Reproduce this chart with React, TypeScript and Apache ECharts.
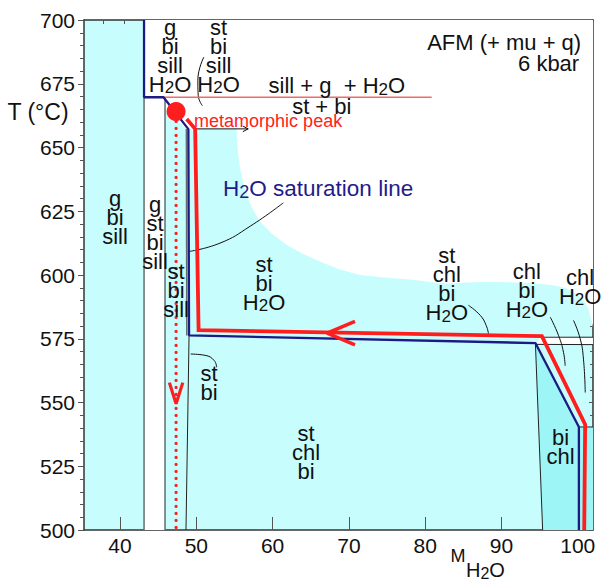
import React, { useEffect, useRef } from "react";
import * as echarts from "echarts";

const FONT = '"Liberation Sans", Arial, Helvetica, sans-serif';

const X_MIN = 35.28;
const X_MAX = 102;
const Y_MIN = 500;
const Y_MAX = 700;
const xTickValues = [40, 50, 60, 70, 80, 90, 100];
const topTickValues = [37.8, 40.5, 43.2, 45.9, 48.6, 51.2, 53.9, 56.6, 59.3, 62.0, 64.6, 67.3, 70.0, 72.7, 75.4, 78.0, 80.7, 83.4, 86.1, 88.8, 91.4, 94.1, 96.8, 99.5];

// filled fields
const whiteRegion = [
  [43.15, 700], [102, 700], [102, 579.6], [101.41, 586.8], [100.9, 589.6], [100.32, 591.4], [99.5, 593.3],
  [98.58, 594.7], [97.3, 595.7], [95.95, 596.3], [93.8, 596.9], [91.57, 597.1], [89.4, 597.3], [87.21, 597.3],
  [85.0, 597.0], [82.84, 596.7], [80.6, 597.3], [78.42, 598.1], [75.0, 598.9], [71.47, 600.0], [68.8, 602.2],
  [66.27, 605.2], [63.9, 608.4], [61.86, 611.8], [59.9, 616.2], [58.36, 621.0], [57.3, 626.4], [56.6, 631.6],
  [56.1, 637.0], [55.74, 642.1], [55.45, 648.5], [55.3, 655.3], [55.3, 657.35], [50.1, 657.35], [48.7, 657.35],
  [45.9, 665], [45.9, 500], [43.15, 500],
];
const whiteBand = [[95.3, 576.0], [102, 575.6], [102, 572.7], [94.45, 573.0]];
const darkRegion = [[94.45, 573.3], [100.15, 540.4], [102, 540.4], [102, 500], [95.4, 500]];

// phase boundaries
const grayLines = [
  [[43.15, 500], [43.15, 669.7]],
  [[45.9, 500], [45.9, 669.7]],
  [[48.7, 657.3], [48.75, 576.3]],
];
const blackLines = [
  [[49.05, 576.3], [48.65, 500]],
  [[94.45, 573.3], [95.4, 500]],
  [[95.3, 575.6], [102, 575.6]],
  [[94.45, 572.8], [102, 572.7]],
  [[100.15, 540.4], [102, 540.4]],
];
const reactionLine = [[43.15, 669.7], [80.85, 669.7]];
const saturationLine = [[43.15, 700], [43.15, 669.7], [45.7, 669.7], [48.96, 657.2], [49.05, 576.3], [94.45, 573.3], [100.15, 540.4], [100.15, 500]];
const ptPath = [[48.74, 661.2], [49.85, 657.3], [50.3, 578.4], [95.3, 576.0], [100.97, 541.4], [100.85, 500]];
const ptArrow = [[70.8, 581.8], [67.15, 577.2], [70.8, 572.6]];
const dropPath = [[47.35, 663], [47.35, 500.8]];
const dropArrow = [[46.47, 557.8], [47.35, 549.5], [48.23, 557.8]];
const peakPoint = [[47.35, 664.1]];
const peakPointer = [[50.1, 657.3], [56.8, 657.3]];
const peakHead = [[56.1, 658.4], [56.8, 657.3], [56.1, 656.2]];

// leader curves
const leaders = [
  [[48.98, 609.2], [53.11, 612.5], [57.05, 619.1], [61.41, 628.3]],
  [[51.0, 685.5], [50.2, 676.3], [50.25, 670.5], [50.8, 666.4]],
  [[49.27, 569.0], [51.15, 568.5], [52.33, 566.5], [52.67, 563.8]],
  [[85.67, 588.1], [87.21, 584.2], [88.0, 580.2], [88.3, 576.9]],
  [[96.39, 583.5], [97.48, 576.3], [98.13, 569.7], [98.35, 564.4]],
  [[99.44, 582.2], [100.32, 575.0], [100.75, 567.0], [100.98, 553.9]],
];

const labels = [
  { text: "g\nbi\nsill", x: 39.35, y: 622.4 },
  { text: "g\nst\nbi\nsill", x: 44.59, y: 616.5 },
  { text: "st\nbi\nsill", x: 47.35, y: 594.1 },
  { text: "g\nbi\nsill\nH2O", x: 46.56, y: 686.0 },
  { text: "st\nbi\nsill\nH2O", x: 52.92, y: 686.0 },
  { text: "sill + g  + H2O", x: 68.42, y: 674.3 },
  { text: "st + bi", x: 66.45, y: 666.0 },
  { text: "metamorphic peak", x: 49.71, y: 660.5, align: "left", size: 18, color: "#ff2020" },
  { text: "H2O saturation line", x: 53.51, y: 633.9, align: "left", size: 22.5, color: "#1f1c8a" },
  { text: "st\nbi\nH2O", x: 58.88, y: 596.7 },
  { text: "st\nchl\nbi\nH2O", x: 82.84, y: 596.3 },
  { text: "chl\nbi\nH2O", x: 93.33, y: 594.0 },
  { text: "chl\nH2O", x: 100.32, y: 595.4 },
  { text: "st\nbi", x: 51.67, y: 557.5 },
  { text: "st\nchl\nbi", x: 64.39, y: 530.2 },
  { text: "bi\nchl", x: 97.76, y: 532.6 },
  { text: "AFM (+ mu + q)", x: 100.45, y: 691.3, align: "right" },
  { text: "6 kbar", x: 100.19, y: 683.0, align: "right" },
];

const CYAN = "#c8fdfd";
const DARK = "#9df5f6";
const NAVY = "#1c1a84";
const RED = "#ff1e1e";
const GRAY = "#5f6e6e";

function sub(t: string) {
  return t.replace(/H2O/g, "H{s|2}O");
}
function rich(size: number, color: string) {
  return {
    s: { fontSize: Math.round(size * 0.78), fontFamily: FONT, fill: color, padding: [7, 0, 0, 0] },
  };
}

function poly(pts: number[][], color: string, z: number) {
  return {
    type: "custom",
    coordinateSystem: "cartesian2d",
    silent: true,
    z,
    data: [[pts[0][0], pts[0][1]]],
    encode: { x: 0, y: 1 },
    renderItem: (_p: any, api: any) => ({
      type: "polygon",
      shape: { points: pts.map((p) => api.coord(p)) },
      style: { fill: color, stroke: null },
    }),
  };
}
function line(pts: number[][], color: string, width: number, z: number, extra: any = {}) {
  return {
    type: "line",
    data: pts,
    symbol: "none",
    silent: true,
    z,
    lineStyle: { color, width, ...(extra.lineStyle || {}) },
    ...(extra.smooth !== undefined ? { smooth: extra.smooth } : {}),
  };
}

export default function App() {
  const ref = useRef<HTMLDivElement>(null);
  useEffect(() => {
    if (!ref.current) return;
    const chart = echarts.init(ref.current, null, { renderer: "svg" });
    const series: any[] = [
      poly(whiteRegion, "#ffffff", 1),
      poly(whiteBand, "#ffffff", 1),
      poly(darkRegion, DARK, 1),
      ...grayLines.map((l) => line(l, GRAY, 1.5, 2)),
      ...blackLines.map((l) => line(l, "#222", 1, 2)),
      ...leaders.map((l) => line(l, "#111", 1, 2, { smooth: 0.5 })),
      line(reactionLine, "#f06a6a", 1.5, 3),
      line(peakPointer, "#111", 1, 3),
      line(peakHead, "#111", 1, 3),
      line(saturationLine, NAVY, 2.3, 4),
      line(ptPath, RED, 3.8, 5, { lineStyle: { join: "miter" } }),
      line(ptArrow, RED, 3.5, 5),
      line(dropPath, RED, 3.2, 5, { lineStyle: { type: [0.1, 6.9], cap: "round" } }),
      line(dropArrow, RED, 3.2, 5),
      {
        type: "scatter",
        data: peakPoint,
        symbolSize: 19,
        itemStyle: { color: RED, opacity: 1 },
        silent: true,
        z: 6,
      },
    ];
    const axisLineStyle = { color: "#333", width: 1.5 };
    chart.setOption({
      animation: false,
      grid: { left: 84, right: 11, top: 20, bottom: 50, show: true, backgroundColor: CYAN, borderWidth: 0 },
      xAxis: [
        {
          type: "value",
          min: X_MIN,
          max: X_MAX,
          position: "bottom",
          axisLine: { show: true, onZero: false, lineStyle: axisLineStyle },
          axisTick: { show: true, inside: true, length: 13, customValues: xTickValues, lineStyle: { color: "#555", width: 1 } },
          axisLabel: { customValues: xTickValues, fontSize: 21, color: "#111", fontFamily: FONT, margin: 5 },
          splitLine: { show: false },
        },
        {
          type: "value",
          min: X_MIN,
          max: X_MAX,
          position: "top",
          axisLine: { show: true, onZero: false, lineStyle: axisLineStyle },
          axisTick: { show: true, inside: true, length: 4, customValues: topTickValues, lineStyle: { color: "#555", width: 1 } },
          axisLabel: { show: false },
          splitLine: { show: false },
        },
      ],
      yAxis: [
        {
          type: "value",
          min: Y_MIN,
          max: Y_MAX,
          interval: 25,
          position: "left",
          axisLine: { show: true, onZero: false, lineStyle: axisLineStyle },
          axisTick: { show: true, inside: false, length: 6, lineStyle: { color: "#555", width: 1 } },
          minorTick: { show: true, splitNumber: 5, length: 4, lineStyle: { color: "#555", width: 1 } },
          axisLabel: { fontSize: 21, color: "#111", fontFamily: FONT, margin: 9 },
          splitLine: { show: false },
        },
        {
          type: "value",
          min: Y_MIN,
          max: Y_MAX,
          interval: 25,
          position: "right",
          axisLine: { show: true, onZero: false, lineStyle: axisLineStyle },
          axisTick: { show: true, inside: true, length: 4, lineStyle: { color: "#555", width: 1 } },
          minorTick: { show: true, splitNumber: 5, length: 3, lineStyle: { color: "#555", width: 1 } },
          axisLabel: { show: false },
          splitLine: { show: false },
        },
      ],
      series: series.map((s) => ({ ...s, xAxisIndex: 0, yAxisIndex: 0 })),
    });

    const elements: any[] = labels.map((l: any) => {
      const [px, py] = chart.convertToPixel({ xAxisIndex: 0, yAxisIndex: 0 }, [l.x, l.y]) as number[];
      const size = l.size || 22;
      const color = l.color || "#111";
      return {
        type: "text",
        x: px,
        y: py,
        z: 100,
        silent: true,
        style: {
          text: sub(l.text),
          fill: color,
          fontSize: size,
          fontFamily: FONT,
          lineHeight: 19,
          align: l.align || "center",
          verticalAlign: "middle",
          rich: rich(size, color),
        },
      };
    });
    elements.push({
      type: "text",
      x: 38,
      y: 112,
      z: 100,
      silent: true,
      style: { text: "T (°C)", fill: "#111", fontSize: 23, fontFamily: FONT, align: "center", verticalAlign: "middle" },
    });
    elements.push({
      type: "text",
      x: 458,
      y: 556,
      z: 100,
      silent: true,
      style: { text: "M", fill: "#111", fontSize: 18, fontFamily: FONT, align: "center", verticalAlign: "middle" },
    });
    elements.push({
      type: "text",
      x: 466,
      y: 570,
      z: 100,
      silent: true,
      style: {
        text: sub("H2O"),
        fill: "#111",
        fontSize: 20,
        fontFamily: FONT,
        lineHeight: 19,
        align: "left",
        verticalAlign: "middle",
        rich: rich(20, "#111"),
      },
    });
    chart.setOption({ graphic: { elements } });
    return () => chart.dispose();
  }, []);
  return (
    <div
      ref={ref}
      style={{ position: "fixed", left: 0, top: 0, width: 604, height: 580, background: "#fff" }}
    />
  );
}
